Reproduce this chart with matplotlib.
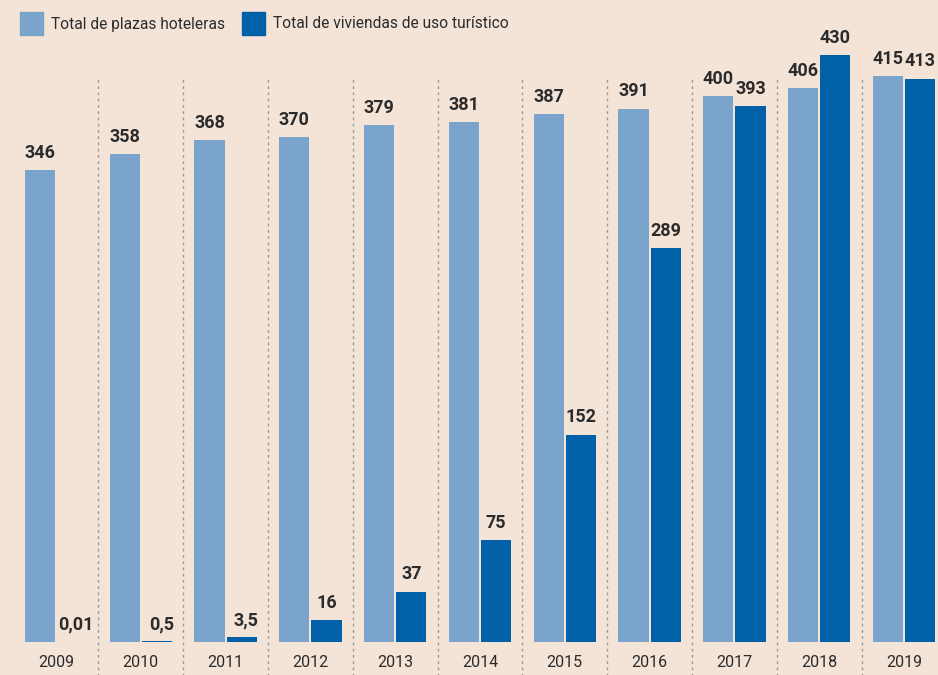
import numpy as np
import matplotlib.pyplot as plt
from matplotlib.patches import Rectangle

years = ['2009', '2010', '2011', '2012', '2013', '2014', '2015', '2016', '2017', '2018', '2019']
plazas = [346, 358, 368, 370, 379, 381, 387, 391, 400, 406, 415]
viviendas = [0.01, 0.5, 3.5, 16, 37, 75, 152, 289, 393, 430, 413]
plazas_lbl = ['346', '358', '368', '370', '379', '381', '387', '391', '400', '406', '415']
viviendas_lbl = ['0,01', '0,5', '3,5', '16', '37', '75', '152', '289', '393', '430', '413']

bg = '#f4e4d8'
light = '#7ba4cc'
dark = '#0060a8'
txt = '#2b2b2b'

plt.rcParams['font.family'] = ['Roboto', 'DejaVu Sans']

fig = plt.figure(figsize=(9.38, 6.75), dpi=100, facecolor=bg)
ax = fig.add_axes([0, 0, 1, 1])
ax.set_facecolor(bg)

px = 1.364  # pixels per unit
x = np.arange(len(years))
w = 0.355
ax.bar(x - 0.19, plazas, w, color=light, zorder=2)
ax.bar(x + 0.19, viviendas, w, color=dark, zorder=2)

for i in range(len(years)):
    ax.text(x[i] - 0.19, plazas[i] + 6, plazas_lbl[i], ha='center', va='bottom',
            fontsize=13, fontweight='bold', color=txt)
    dx = 0.24 if i < 3 else 0.19
    ax.text(x[i] + dx, viviendas[i] + 6, viviendas_lbl[i], ha='center', va='bottom',
            fontsize=13, fontweight='bold', color=txt)
    ax.text(x[i], -15, years[i], ha='center', va='center', fontsize=11.5, color=txt)

# dashed separators between years
ax.vlines(x[:-1] + 0.5, -30, 414, colors='#9a9a9a', linestyles=(0, (2, 2.5)),
          linewidth=1, zorder=1)

ax.set_xlim(-56 / 84.8, (938 - 56) / 84.8)
ax.set_ylim(-33 / px, 642 / px)
ax.axis('off')

# legend
fig.patches.append(Rectangle((20 / 938, 1 - 35 / 675), 23 / 938, 23 / 675,
                             transform=fig.transFigure, color=light))
fig.text(51 / 938, 1 - 24 / 675, 'Total de plazas hoteleras', va='center',
         fontsize=11.2, color=txt)
fig.patches.append(Rectangle((242 / 938, 1 - 35 / 675), 23 / 938, 23 / 675,
                             transform=fig.transFigure, color=dark))
fig.text(273 / 938, 1 - 24 / 675, 'Total de viviendas de uso turístico', va='center',
         fontsize=11.2, color=txt)

fig.savefig('out.png', dpi=100, facecolor=bg)
